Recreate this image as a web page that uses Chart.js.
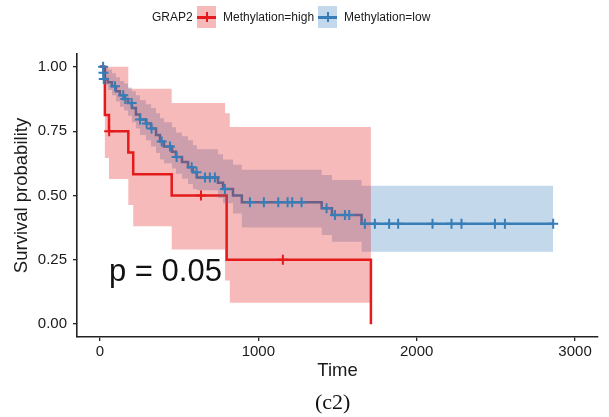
<!DOCTYPE html>
<html>
<head>
<meta charset="utf-8">
<script src="https://cdn.jsdelivr.net/npm/chart.js@4.4.1/dist/chart.umd.min.js"></script>
<style>
  html, body { margin: 0; padding: 0; background: #fff; }
  #wrap { position: relative; width: 609px; height: 417px; font-family: 'Liberation Sans', Arial, sans-serif; color: #1a1a1a; }
  #wrap canvas { position: absolute; left: 0; top: 0; }
  .lg { position: absolute; top: 11px; font-size: 12px; line-height: 12px; white-space: nowrap; }
  .key { position: absolute; top: 6px; width: 19px; height: 22px; }
  .key .h { position: absolute; left: 0; right: 0; top: 10px; height: 2.5px; }
  .key .v { position: absolute; left: 8.5px; width: 2px; top: 6px; height: 10px; }
  #caption { position: absolute; left: 315px; top: 391px; font-family: 'Liberation Serif', 'Times New Roman', serif; font-size: 22px; line-height: 22px; color: #111; }
</style>
</head>
<body>
<div id="wrap">
  <canvas id="km" width="609" height="417"></canvas>
  <div class="lg" style="left:152px">GRAP2</div>
  <div class="key" style="left:197px; background: rgba(228,26,28,0.3)"><div class="h" style="background:#E41A1C"></div><div class="v" style="background:#E41A1C"></div></div>
  <div class="lg" style="left:223px">Methylation=high</div>
  <div class="key" style="left:318px; background: rgba(55,126,184,0.3)"><div class="h" style="background:#377EB8"></div><div class="v" style="background:#377EB8"></div></div>
  <div class="lg" style="left:344px">Methylation=low</div>
  <div id="caption">(c2)</div>
</div>
<script>
// axis ticks
const xTicks = [0, 1000, 2000, 3000];
const yTicks = [0, 0.25, 0.5, 0.75, 1];

// Methylation=high
const highTime = [0, 31, 57, 179, 210, 453, 800, 1711];
const highSurv = [1, 0.8125, 0.75, 0.667, 0.583, 0.5, 0.25, 0];
const highBandTime = [0, 31, 57, 179, 210, 453, 790, 820, 1711];
const highUpper = [1, 1, 1, 0.915, 0.915, 0.86, 0.82, 0.766, 0.766];
const highLower = [1, 0.646, 0.564, 0.463, 0.38, 0.29, 0.17, 0.083, 0.083];
const highCensor = [58, 638, 1155];

// Methylation=low
const lowTime = [0, 21, 23, 50, 76, 101, 126, 152, 177, 202, 227, 253, 290, 322, 354, 379, 404, 455, 480, 518,
  556, 587, 612, 745, 777, 840, 896, 1400, 1465, 1652, 2862];
const lowSurv = [1, 0.977, 0.953, 0.94, 0.925, 0.905, 0.89, 0.875, 0.86, 0.84, 0.815, 0.795, 0.78, 0.76, 0.735, 0.71, 0.69, 0.67, 0.65, 0.63,
  0.61, 0.59, 0.57, 0.55, 0.525, 0.5, 0.474, 0.45, 0.424, 0.39, 0.39];
const lowUpper = [1, 1, 1, 0.99, 0.975, 0.96, 0.945, 0.935, 0.92, 0.905, 0.89, 0.87, 0.855, 0.84, 0.82, 0.8, 0.785, 0.765, 0.745, 0.73,
  0.715, 0.695, 0.68, 0.66, 0.64, 0.62, 0.6, 0.58, 0.56, 0.538, 0.538];
const lowLower = [1, 0.95, 0.93, 0.91, 0.89, 0.865, 0.845, 0.83, 0.81, 0.785, 0.76, 0.735, 0.715, 0.69, 0.665, 0.64, 0.625, 0.605, 0.585, 0.565,
  0.545, 0.525, 0.52, 0.49, 0.47, 0.43, 0.376, 0.346, 0.32, 0.281, 0.281];
const lowCensor = [20, 22, 24, 95, 147, 160, 200, 253, 295, 326, 390, 442, 484, 579, 610, 663, 694, 726, 789, 947,
  1035, 1126, 1185, 1214, 1273, 1431, 1484, 1547, 1574, 1673, 1736, 1826, 1883, 2100, 2220, 2283, 2494, 2557, 2862];

const pvalText = 'p = 0.05';
const pvalPos = [57, 0.2];

const red = '#E41A1C', blue = '#377EB8';
const redBand = 'rgba(228,26,28,0.3)', blueBand = 'rgba(55,126,184,0.3)';
const ink = '#1a1a1a';

const toXY = (xs, ys) => xs.map((x, i) => ({ x: x, y: ys[i] }));

// survival level of a step curve at time t (for the censor marks)
function levelAt(times, surv, t) {
  let v = surv[0];
  for (let i = 0; i < times.length; i++) if (times[i] <= t) v = surv[i];
  return v;
}
const censorXY = (times, surv, cens) => cens.map(t => ({ x: t, y: levelAt(times, surv, t) }));

// KM steps: hold the previous level until the next time, then drop
const stepLine = (data, color, order) => ({
  data: data, borderColor: color, borderWidth: 2.5, stepped: 'before',
  pointRadius: 0, pointHitRadius: 0, fill: false, order: order
});
const bandEdge = (data, fillColor, fill) => ({
  data: data, borderWidth: 0, borderColor: 'transparent', stepped: 'before',
  pointRadius: 0, pointHitRadius: 0, backgroundColor: fillColor, fill: fill, order: 2
});
const marks = (data, color) => ({
  data: data, showLine: false, pointStyle: 'cross', pointRadius: 5,
  pointBorderColor: color, pointBorderWidth: 2, order: 1
});

const pvalPlugin = {
  id: 'pval',
  afterDatasetsDraw(chart) {
    const { ctx, scales: { x, y } } = chart;
    ctx.save();
    ctx.font = '31px "Liberation Sans", Arial, sans-serif';
    ctx.fillStyle = '#111';
    ctx.textAlign = 'left';
    ctx.textBaseline = 'middle';
    ctx.fillText(pvalText, x.getPixelForValue(pvalPos[0]), y.getPixelForValue(pvalPos[1]));
    ctx.restore();
  }
};

Chart.defaults.font.family = "'Liberation Sans', Arial, sans-serif";
Chart.defaults.color = ink;

const axisGrid = { drawOnChartArea: false, drawTicks: true, tickLength: 4, color: '#222', lineWidth: 1.3 };
const axisBorder = { display: true, color: '#222', width: 1.6 };

new Chart(document.getElementById('km'), {
  type: 'line',
  data: {
    datasets: [
      stepLine(toXY(highTime, highSurv), red, 3),
      stepLine(toXY(lowTime, lowSurv), blue, 3),
      bandEdge(toXY(highBandTime, highUpper), redBand, '+1'),
      bandEdge(toXY(highBandTime, highLower), 'transparent', false),
      bandEdge(toXY(lowTime, lowUpper), blueBand, '+1'),
      bandEdge(toXY(lowTime, lowLower), 'transparent', false),
      marks(censorXY(highTime, highSurv, highCensor), red),
      marks(censorXY(lowTime, lowSurv, lowCensor), blue)
    ]
  },
  options: {
    responsive: false,
    animation: false,
    events: [],
    layout: { padding: { top: 54, right: 11, left: 0, bottom: 0 } },
    plugins: { legend: { display: false }, tooltip: { enabled: false } },
    scales: {
      x: {
        type: 'linear', min: -145, max: 3145,
        afterBuildTicks: s => { s.ticks = xTicks.map(v => ({ value: v })); },
        afterFit: s => { s.height = 80; },
        grid: axisGrid, border: axisBorder,
        ticks: { font: { size: 15 }, padding: 2, maxRotation: 0, color: ink, callback: v => String(v) },
        title: { display: true, text: 'Time', color: ink, font: { size: 18.5 }, padding: { top: 0, bottom: 35 } }
      },
      y: {
        type: 'linear', min: -0.05, max: 1.05,
        afterBuildTicks: s => { s.ticks = yTicks.map(v => ({ value: v })); },
        afterFit: s => { s.width = 77; },
        grid: axisGrid, border: axisBorder,
        ticks: { font: { size: 15 }, padding: 6, color: ink, callback: v => Number(v).toFixed(2) },
        title: { display: true, text: 'Survival probability', color: ink, font: { size: 18.5 }, padding: { top: 11, bottom: 0 } }
      }
    }
  },
  plugins: [pvalPlugin]
});
</script>
</body>
</html>
